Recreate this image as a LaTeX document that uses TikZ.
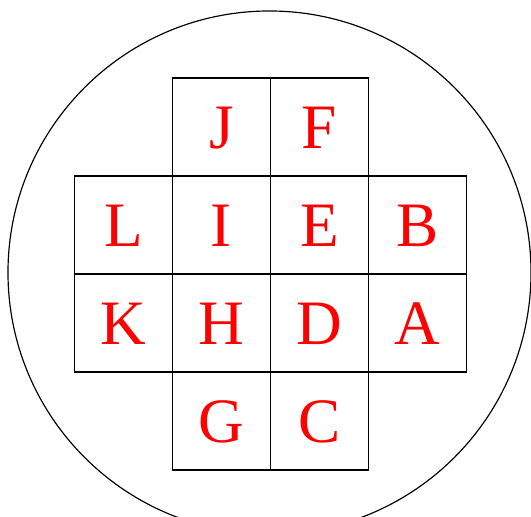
\documentclass[tikz,border=0pt]{standalone}
\usepackage{fontspec}
\setmainfont{Liberation Serif}
\usetikzlibrary{positioning}
\begin{document}
\begin{tikzpicture}[x=0.03cm, y=-0.03cm, node distance=0pt]
    % Estilos
    \tikzstyle{cell} = [rectangle, draw, line width=1pt, minimum size=2.94cm, inner sep=0pt, outer sep=0pt, text=red, font=\fontsize{54}{60}\selectfont, text height=1.3cm, text depth=0pt]
    \tikzstyle{wafer} = [circle, draw, line width=1pt, minimum size=15.69cm, inner sep=0pt]

    % Marco
    \useasboundingbox (0,0) rectangle (531,517);
    \clip (0,0) rectangle (531,517);
    \node (disk) [wafer] at (269.5,272.5) {};

    % Nodos
    \node (I) [cell] at (221.5,225) {I};
    \node (E) [cell, right=of I] {E};
    \node (J) [cell, above=of I] {J};
    \node (F) [cell, above=of E] {F};
    \node (L) [cell, left=of I] {L};
    \node (B) [cell, right=of E] {B};
    \node (H) [cell, below=of I] {H};
    \node (D) [cell, below=of E] {D};
    \node (K) [cell, left=of H] {K};
    \node (A) [cell, right=of D] {A};
    \node (G) [cell, below=of H] {G};
    \node (C) [cell, below=of D] {C};
\end{tikzpicture}
\end{document}
